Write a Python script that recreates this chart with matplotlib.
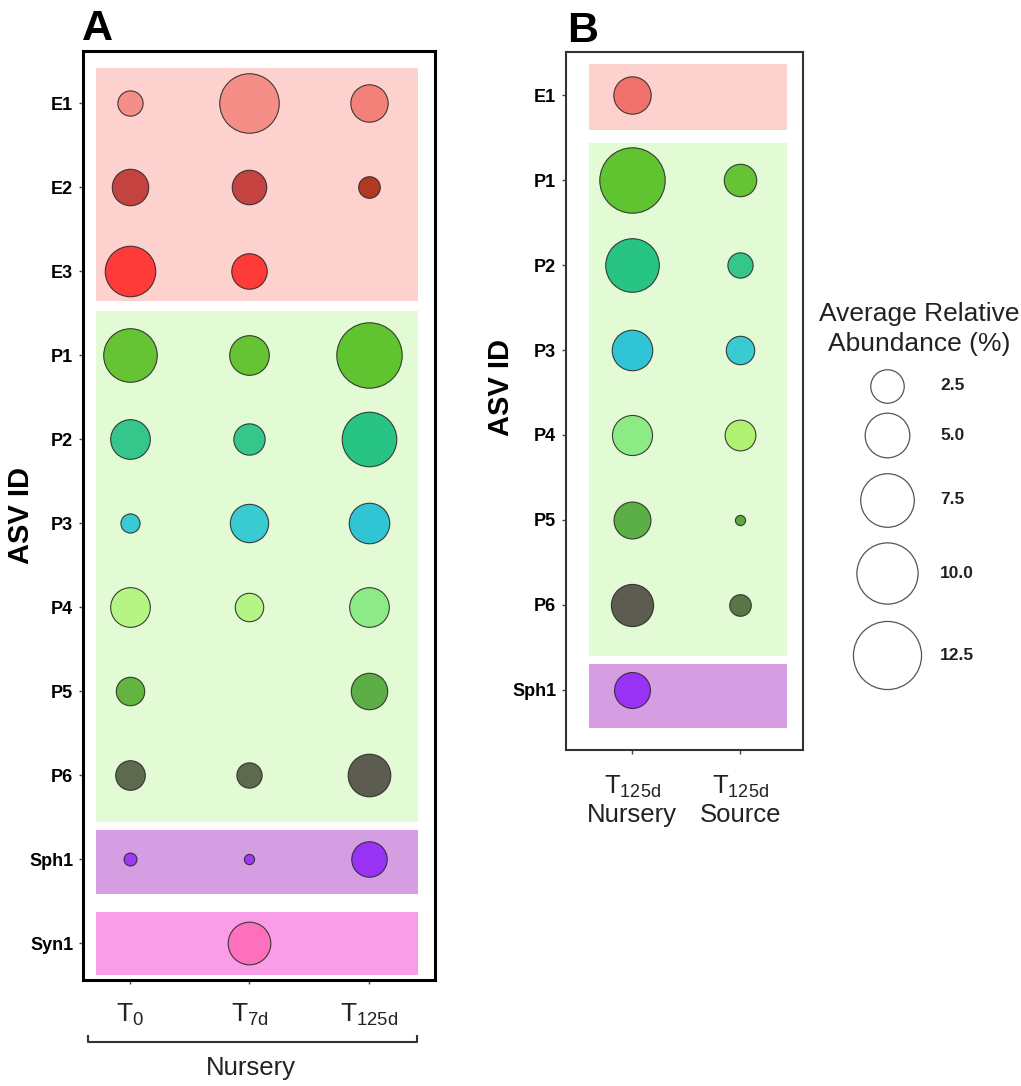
import numpy as np
import matplotlib
matplotlib.use("Agg")
import matplotlib.pyplot as plt
from matplotlib.patches import Rectangle
from matplotlib.lines import Line2D

plt.rcParams['font.family'] = ['Liberation Sans', 'DejaVu Sans']

nan = np.nan

# Panel A: nursery time course (average relative abundance, %)
asv_a = ["E1", "E2", "E3", "P1", "P2", "P3", "P4", "P5", "P6", "Sph1", "Syn1"]
times_a = [r"$\mathregular{T_{0}}$", r"$\mathregular{T_{7d}}$", r"$\mathregular{T_{125d}}$"]
t0 = [1.7, 3.7, 7.2, 8.1, 4.4, 0.9, 4.4, 2.2, 2.4, 0.3, nan]
t7d = [10.0, 3.3, 3.5, 4.4, 2.7, 4.1, 2.2, nan, 1.7, 0.1, 5.1]
t125d = [3.9, 1.2, nan, 12.1, 8.4, 4.6, 4.4, 3.7, 5.1, 3.5, nan]

# Panel B: T125d nursery vs source
asv_b = ["E1", "P1", "P2", "P3", "P4", "P5", "P6", "Sph1"]
labels_b = [r"$\mathregular{T_{125d}}$" + "\nNursery", r"$\mathregular{T_{125d}}$" + "\nSource"]
nursery = [3.9, 12.1, 8.1, 4.6, 4.5, 3.8, 5.0, 3.6]
source = [nan, 2.9, 1.7, 2.2, 2.6, 0.1, 1.2, nan]

legend_vals = [2.5, 5.0, 7.5, 10.0, 12.5]

# colours
asv_colors = {"E1": "#F4877F", "E2": "#BE3431", "E3": "#FF2B28", "P1": "#58BE22",
              "P2": "#22C184", "P3": "#26C6D2", "P4": "#B0F57A", "P5": "#55AE30",
              "P6": "#4F5A40", "Sph1": "#9A2EF5", "Syn1": "#FF6AB8"}
# T125d nursery samples are drawn in slightly different shades
late_colors = {"E1": "#F47870", "E2": "#A82810", "P1": "#52BE1E", "P2": "#14BE7C",
               "P3": "#1CC0D6", "P4": "#84EA7E", "P5": "#4DA637", "P6": "#4D4B42",
               "Sph1": "#9226F8"}
source_colors = {"P4": "#AAF266", "P6": "#4A6838", "P5": "#4FA030"}
groups = [("E", ["E1", "E2", "E3"], "#FDD2CE"),
          ("P", ["P1", "P2", "P3", "P4", "P5", "P6"], "#E3FBD4"),
          ("Sph", ["Sph1"], "#D59EE3"),
          ("Syn", ["Syn1"], "#F99DE8")]


def size_of(v):
    # diameter in px -> points^2
    d = np.sqrt(100 + 362 * np.asarray(v, dtype=float)) - 1.5
    return (d * 0.72) ** 2


def draw_bands(ax, rows, pads, x0, x1):
    for name, members, col in groups:
        idx = [rows.index(m) for m in members if m in rows]
        if not idx:
            continue
        top, bot = pads[name]
        y0 = min(idx) - top
        y1 = max(idx) + bot
        ax.add_patch(Rectangle((x0, y0), x1 - x0, y1 - y0, facecolor=col,
                               edgecolor="none", zorder=0))


def bubbles(ax, rows, cols, palettes):
    for j, (vals, pal) in enumerate(zip(cols, palettes)):
        for i, v in enumerate(vals):
            if np.isnan(v):
                continue
            c = pal.get(rows[i], asv_colors[rows[i]])
            ax.scatter(j, i, s=size_of(v), color=c, alpha=0.9,
                       edgecolor="#2a2a2a", linewidth=0.8, zorder=3)


fig = plt.figure(figsize=(10.21, 10.86), dpi=100)
W, H = 1021, 1086

# ---- panel A ----
axA = fig.add_axes([83 / W, 1 - 980 / H, 352 / W, 929 / H])
draw_bands(axA, asv_a, {"E": (0.42, 0.36), "P": (0.52, 0.56),
                        "Sph": (0.35, 0.42), "Syn": (0.37, 0.38)}, -0.28, 2.41)
bubbles(axA, asv_a, [t0, t7d, t125d], [{}, {}, late_colors])
axA.set_xlim(-0.39, 2.55)
axA.set_ylim(10.44, -0.62)
axA.set_yticks(range(len(asv_a)))
axA.set_yticklabels(asv_a, fontsize=13, fontweight="bold")
axA.set_xticks(range(3))
axA.set_xticklabels(times_a, fontsize=19, color="#222222")
axA.tick_params(axis="y", length=3, width=1, color="#444444", pad=4)
axA.tick_params(axis="x", length=3, width=1, color="#444444", pad=13)
for sp in axA.spines.values():
    sp.set_linewidth(2.2)
    sp.set_color("black")
axA.set_ylabel("ASV ID", fontsize=21, fontweight="bold")
axA.yaxis.set_label_coords(-0.135, 0.5)

# ---- panel B ----
axB = fig.add_axes([566 / W, 1 - 750 / H, 237 / W, 698 / H])
draw_bands(axB, asv_b, {"E": (0.37, 0.41), "P": (0.43, 0.6),
                        "Sph": (0.31, 0.45)}, -0.4, 1.43)
bubbles(axB, asv_b, [nursery, source], [dict(late_colors, E1="#F06862"), source_colors])
axB.set_xlim(-0.61, 1.58)
axB.set_ylim(7.706, -0.506)
axB.set_yticks(range(len(asv_b)))
axB.set_yticklabels(asv_b, fontsize=13, fontweight="bold")
axB.set_xticks(range(2))
axB.set_xticklabels(labels_b, fontsize=18.5, color="#222222", linespacing=1.15)
axB.tick_params(axis="y", length=3, width=1, color="#444444", pad=4)
axB.tick_params(axis="x", length=3, width=1, color="#444444", pad=14)
for sp in axB.spines.values():
    sp.set_linewidth(1.5)
    sp.set_color("#333333")
axB.set_ylabel("ASV ID", fontsize=21, fontweight="bold")
axB.yaxis.set_label_coords(-0.215, 0.519)

# panel letters
fig.text(82 / W, 1 - 40 / H, "A", fontsize=31, fontweight="bold", ha="left", va="baseline")
fig.text(567 / W, 1 - 42 / H, "B", fontsize=31, fontweight="bold", ha="left", va="baseline")

# nursery bracket under panel A
bx = [88 / W, 88 / W, 417 / W, 417 / W]
by = [1 - 1036 / H, 1 - 1042 / H, 1 - 1042 / H, 1 - 1036 / H]
fig.add_artist(Line2D(bx, by, color="#333333", linewidth=1.5))
fig.text(251 / W, 1 - 1068 / H, "Nursery", fontsize=18.5, ha="center", va="center",
         color="#222222")

# ---- size legend ----
axL = fig.add_axes([840 / W, 1 - 700 / H, 100 / W, 340 / H])
axL.set_xlim(0, 1)
axL.set_ylim(700, 360)
axL.axis("off")
leg_y = [386, 435, 500, 573, 655]
for v, y in zip(legend_vals, leg_y):
    axL.scatter(0.47, y, s=size_of(v + 0.6), facecolor="white", edgecolor="#555555",
                linewidth=0.9, clip_on=False)
    axL.text(1.0, y, f"{v:.1f}", fontsize=12.5, fontweight="bold", ha="left",
             va="center", color="#222222")
fig.text(919 / W, 1 - 329 / H, "Average Relative\nAbundance (%)", fontsize=19,
         ha="center", va="center", linespacing=1.3, color="#222222")

fig.savefig("out.png", dpi=100)
